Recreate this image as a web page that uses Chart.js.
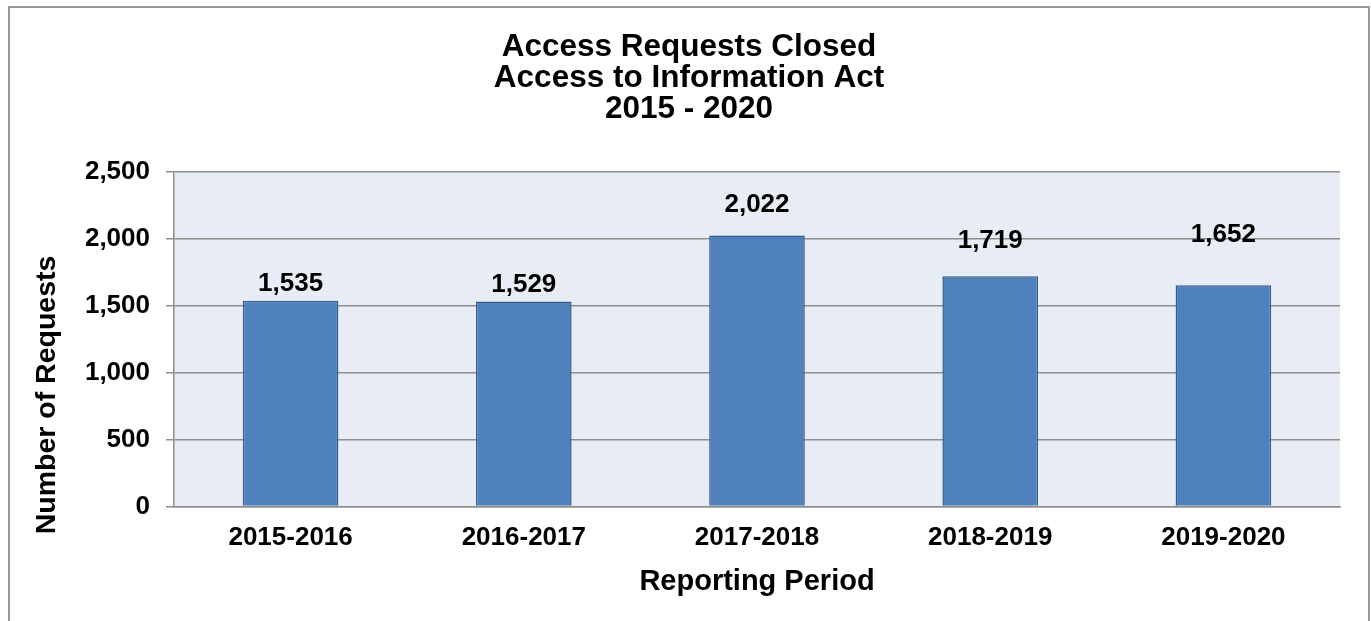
<!DOCTYPE html>
<html lang="en">
<head>
    <meta charset="UTF-8">
    <title>Access Requests Closed</title>
    <script src="https://cdn.jsdelivr.net/npm/chart.js"></script>
    <style>
        html, body { margin: 0; padding: 0; background: #fff; }
        #wrap { width: 1371px; height: 621px; }
    </style>
</head>
<body>
<div id="wrap"><canvas id="requestsChart" width="1371" height="621"></canvas></div>

<script>
    const periods = ['2015-2016', '2016-2017', '2017-2018', '2018-2019', '2019-2020'];
    const requestsClosed = [1535, 1529, 2022, 1719, 1652];
    const yTicks = [0, 500, 1000, 1500, 2000, 2500];
    const titleLines = ['Access Requests Closed', 'Access to Information Act', '2015 - 2020'];

    // how far above each bar top its label sits (px)
    const labelOffsets = [17, 17, 31, 35, 50];

    const FONT = '"Liberation Sans", Arial, sans-serif';
    const gridGrey = '#8e8e8e';

    const decorations = {
        id: 'decorations',
        beforeDraw(chart) {
            const ctx = chart.ctx;
            const a = chart.chartArea;
            ctx.save();
            ctx.fillStyle = '#fff';
            ctx.fillRect(0, 0, chart.width, chart.height);
            ctx.strokeStyle = '#9a9a9a';
            ctx.lineWidth = 2;
            ctx.strokeRect(9, 7, 1360, 640);
            ctx.fillStyle = '#e8ecf4';
            ctx.fillRect(a.left, a.top, a.right - a.left, a.bottom - a.top);
            ctx.restore();
        },
        afterDraw(chart) {
            const ctx = chart.ctx;
            ctx.save();
            ctx.fillStyle = '#000';
            ctx.textAlign = 'center';
            ctx.textBaseline = 'middle';

            ctx.font = 'bold 31.5px ' + FONT;
            titleLines.forEach((line, i) => ctx.fillText(line, 689, 47 + i * 31));

            ctx.font = 'bold 28.5px ' + FONT;
            ctx.save();
            ctx.translate(47, 395);
            ctx.rotate(-Math.PI / 2);
            ctx.fillText('Number of Requests', 0, 0);
            ctx.restore();

            ctx.font = 'bold 26px ' + FONT;
            const meta = chart.getDatasetMeta(0);
            meta.data.forEach((bar, i) => {
                ctx.fillText(requestsClosed[i].toLocaleString('en-US'), bar.x, bar.y - labelOffsets[i]);
            });
            ctx.restore();
        }
    };

    const ctx = document.getElementById('requestsChart').getContext('2d');
    new Chart(ctx, {
        type: 'bar',
        data: {
            labels: periods,
            datasets: [{
                label: 'Requests closed',
                data: requestsClosed,
                backgroundColor: '#4f81bd',
                borderColor: '#385d8a',
                borderWidth: 1.5,
                barPercentage: 0.41,
                categoryPercentage: 1
            }]
        },
        options: {
            responsive: false,
            animation: false,
            layout: { padding: { left: 0, right: 31, top: 171.5, bottom: 0 } },
            plugins: {
                legend: { display: false },
                title: { display: false },
                tooltip: { enabled: false }
            },
            scales: {
                x: {
                    grid: { display: false, drawTicks: false },
                    border: { color: gridGrey, width: 1.5 },
                    ticks: {
                        color: '#000',
                        padding: 16,
                        font: { family: FONT, size: 26, weight: 'bold' }
                    },
                    title: {
                        display: true,
                        text: 'Reporting Period',
                        color: '#000',
                        padding: { top: 0, bottom: 22 },
                        font: { family: FONT, size: 29, weight: 'bold' }
                    },
                    afterFit(scale) { scale.height = 114.5; }
                },
                y: {
                    min: 0,
                    max: 2500,
                    afterBuildTicks(scale) { scale.ticks = yTicks.map(v => ({ value: v })); },
                    grid: { color: gridGrey, lineWidth: 1.5, tickLength: 8 },
                    border: { color: gridGrey, width: 1.5 },
                    ticks: {
                        color: '#000',
                        padding: 16,
                        font: { family: FONT, size: 26, weight: 'bold' },
                        callback: v => v.toLocaleString('en-US')
                    },
                    afterFit(scale) { scale.width = 174; }
                }
            }
        },
        plugins: [decorations]
    });
</script>
</body>
</html>
